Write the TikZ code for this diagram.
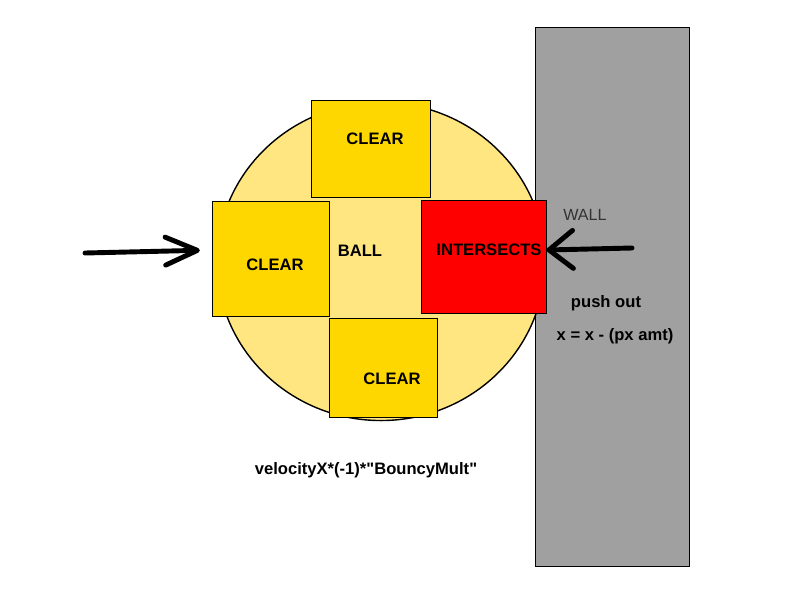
\documentclass[tikz,border=0pt]{standalone}
\usepackage{fontspec}
\setmainfont{Liberation Sans}[Ligatures=TeXOff]
\usetikzlibrary{arrows.meta, shapes.geometric}
\definecolor{ballyellow}{HTML}{FFE680}
\definecolor{boxgold}{HTML}{FFD700}
\definecolor{wallgray}{HTML}{A0A0A0}
\tikzstyle{sidebox} = [rectangle, draw=black, line width=0.7pt, inner sep=0pt]
\tikzstyle{lbl} = [font=\fontsize{11.8}{14}\selectfont\bfseries, inner sep=0pt]
\tikzstyle{push} = [line width=3.5pt, line cap=round, line join=round]

\begin{document}
\begin{tikzpicture}[x=0.025cm, y=-0.025cm]
		\useasboundingbox (0,0) rectangle (800,600);
		\node (wall) [sidebox, fill=wallgray, minimum width=3.825cm, minimum height=13.45cm] at (612.5,297) {};
		\node (ball) [ellipse, draw=black, line width=1pt, fill=ballyellow, minimum width=8.2cm, minimum height=7.95cm, inner sep=0pt] at (381,261.5) {};
		\node (clrtop) [sidebox, fill=boxgold, minimum width=2.95cm, minimum height=2.425cm] at (371,148.5) {};
		\node (clrleft) [sidebox, fill=boxgold, minimum width=2.9cm, minimum height=2.875cm] at (271,258.5) {};
		\node (clrbot) [sidebox, fill=boxgold, minimum width=2.7cm, minimum height=2.475cm] at (383,367.5) {};
		\node (hit) [sidebox, fill=red, minimum width=3.1cm, minimum height=2.825cm] at (484,256.5) {};
		
		\node (ttop) [lbl] at (375,139) {CLEAR};
		\node (tleft) [lbl] at (275,265) {CLEAR};
		\node (tbot) [lbl] at (392,379) {CLEAR};
		\node (tball) [lbl] at (360,251) {BALL};
		\node (thit) [lbl] at (489,250) {INTERSECTS};
		\node (twall) [font=\fontsize{11.5}{13}\selectfont, text=black!80, inner sep=0pt] at (585,215) {WALL};
		\node (tpush) [lbl] at (606,303) {push out};
		\node (tform) [lbl] at (615,336) {x = x - (px amt)};
		\node (tvel) [lbl] at (366,470) {velocityX*(-1)*"BouncyMult"};
		
		\coordinate (inL) at (85,253);
		\coordinate (inR) at (632,248);
		\draw [push, -{Straight Barb[length=0.8cm, width=0.7cm, line cap=round, line join=round]}, shorten >=9pt] (inL) -- (clrleft.west |- 0,250);
		\draw [push, -{Straight Barb[length=0.6cm, width=0.95cm, line cap=round, line join=round]}] (inR) -- (hit.east |- 0,250);
	\end{tikzpicture}
\end{document}
